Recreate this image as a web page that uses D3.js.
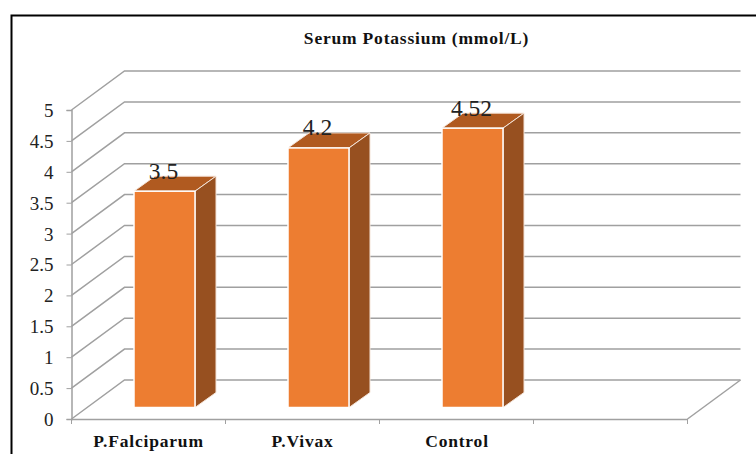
<!DOCTYPE html>
<html><head><meta charset="utf-8">
<style>html,body{margin:0;padding:0;background:#fff}svg{display:block}text{font-family:"Liberation Serif","Times New Roman",serif}</style>
<script src="https://cdn.jsdelivr.net/npm/d3@7/dist/d3.min.js"></script>
</head><body>
<script>
const categories = ["P.Falciparum", "P.Vivax", "Control", ""];
const values = [3.5, 4.2, 4.52];
const valueLabels = ["3.5", "4.2", "4.52"];
const yTicks = [0, 0.5, 1, 1.5, 2, 2.5, 3, 3.5, 4, 4.5, 5];
const titleText = "Serum Potassium (mmol/L)";

const W = 756, H = 454;
const svg = d3.select("body").append("svg").attr("width", W).attr("height", H);
const y = d3.scaleLinear().domain([0, 5]).range([419, 110]);
const x = d3.scaleBand().domain(categories).range([71.5, 687.5]);
const depth = {dx: 53, dy: -39};
const bar = {width: 61};
const grid = "#a0a0a0";

// frame
svg.append("path").attr("d", `M11.5,${H} V15.5 H${W}`).attr("fill", "none").attr("stroke", "#000").attr("stroke-width", 2);

// gridlines: side wall + back wall
svg.append("g").selectAll("path").data(yTicks).join("path")
  .attr("d", d => `M${x.range()[0]},${y(d)} l${depth.dx},${depth.dy} H${x.range()[1] + depth.dx}`)
  .attr("fill", "none").attr("stroke", grid).attr("stroke-width", 1.5);

// floor edge right and axes
svg.append("path").attr("d", `M${x.range()[1]},${y(0)} l${depth.dx},${depth.dy}`).attr("fill", "none").attr("stroke", grid).attr("stroke-width", 1.5);

const axisL = d3.axisLeft(y).tickValues(yTicks).tickSize(5).tickFormat(d3.format("~g"));
const gL = svg.append("g").attr("transform", `translate(${x.range()[0]},0)`).call(axisL);
gL.select(".domain").attr("stroke", grid).attr("stroke-width", 1.5);
gL.selectAll("line").attr("stroke", grid);
gL.selectAll("text").attr("font-size", 19).attr("fill", "#222").attr("x", -18).attr("dy", "0.34em");

const axisB = d3.axisBottom(x).tickSize(5).tickSizeOuter(0);
const gB = svg.append("g").attr("transform", `translate(0,${y(0)})`).call(axisB);
gB.select(".domain").attr("stroke", grid).attr("stroke-width", 1.5);
gB.selectAll(".tick").remove();
const edges = d3.range(categories.length + 1).map(i => x.range()[0] + i * x.step());
gB.selectAll("line.edge").data(edges).join("line").attr("class", "edge")
  .attr("x1", d => d).attr("x2", d => d).attr("y1", 0).attr("y2", 5).attr("stroke", grid);

// category labels
const labelX = [148.5, 302.5, 457];
svg.append("g").selectAll("text").data(categories.slice(0, 3)).join("text")
  .attr("x", (d, i) => labelX[i]).attr("y", 447).attr("text-anchor", "middle")
  .attr("font-size", 17.5).attr("font-weight", "bold").attr("letter-spacing", 0.8).attr("fill", "#111").text(d => d);

// bars
const gb = svg.append("g").selectAll("g").data(values).join("g");
const bx = (d, i) => x(categories[i]) + x.bandwidth() / 2 + 16 - bar.width / 2;
const base = y(0) - 11.5;
const h = d => y(0) - y(d);
const ddx = 21, ddy = -15;
gb.append("path").attr("fill", "#b05a20").attr("stroke", "#f4e3d7").attr("stroke-width", 1)
  .attr("d", (d, i) => `M${bx(d,i)},${base-h(d)} l${ddx},${ddy} h${bar.width} l${-ddx},${-ddy} Z`);
gb.append("path").attr("fill", "#975020").attr("stroke", "#f4e3d7").attr("stroke-width", 1)
  .attr("d", (d, i) => `M${bx(d,i)+bar.width},${base-h(d)} l${ddx},${ddy} V${base+ddy} l${-ddx},${-ddy} Z`);
gb.append("rect").attr("fill", "#ed7d31").attr("stroke", "#fff").attr("stroke-width", 1.5)
  .attr("x", bx).attr("y", d => base - h(d)).attr("width", bar.width).attr("height", h);

// value labels
svg.append("g").selectAll("text").data(values).join("text")
  .attr("x", (d, i) => bx(d, i) + bar.width / 2 - 1).attr("y", d => base - h(d) - 12.5)
  .attr("text-anchor", "middle").attr("font-size", 23.5).attr("fill", "#222")
  .text((d, i) => valueLabels[i]);

// title
svg.append("text").attr("x", 416.5).attr("y", 44).attr("text-anchor", "middle")
  .attr("font-size", 17.5).attr("font-weight", "bold").attr("letter-spacing", 0.8).attr("fill", "#111").text(titleText);
</script>
</body></html>
